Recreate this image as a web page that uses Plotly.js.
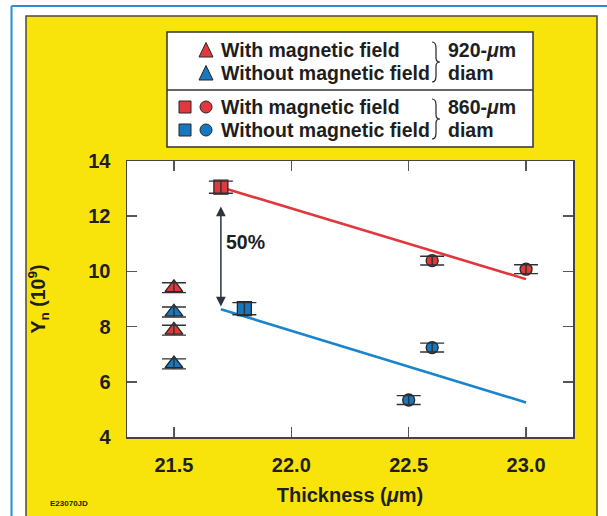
<!DOCTYPE html>
<html>
<head>
<meta charset="utf-8">
<script src="https://cdn.plot.ly/plotly-3.0.1.min.js"></script>
<style>html,body{margin:0;padding:0;background:#fff;}#chart{width:607px;height:516px;}</style>
</head>
<body>
<div id="chart"></div>
<script>
// ---- data ----
const triX = [21.5, 21.5];
const triRedY = [9.41, 7.87];
const triBlueY = [8.53, 6.65];
const triErr = [0.18, 0.18];

const sqRedX = [21.70];
const sqRedY = [13.05];
const sqBlueX = [21.80];
const sqBlueY = [8.65];
const sqErr = [0.22];

const circRedX = [22.6, 23.0];
const circRedY = [10.39, 10.08];
const circBlueX = [22.6, 22.5];
const circBlueY = [7.24, 5.34];
const circErr = [0.16, 0.16];

const fitX = [21.7, 23.0];
const fitRedY = [13.05, 9.72];
const fitBlueY = [8.63, 5.25];

const arrowX = 21.7;
const arrowTopY = 12.71;
const arrowBottomY = 8.73;

const xTickVals = [21.5, 22.0, 22.5, 23.0];
const xTickText = ['21.5', '22.0', '22.5', '23.0'];
const yTickVals = [4, 6, 8, 10, 12, 14];

// ---- styles ----
const RED = '#e1383d', BLUE = '#1677c2', EDGE = '#262626';
const FONT = 'Liberation Sans, Arial, sans-serif';
const L = 127, R = 34, T = 161, B = 79, W = 607, H = 516;
const PW = W - L - R, PH = H - T - B;
const PX = p => (p - L) / PW;
const PY = p => (H - B - p) / PH;

function mk(x, y, sym, size, color) {
  return {x: x, y: y, type: 'scatter', mode: 'markers', hoverinfo: 'skip',
    marker: {symbol: sym, size: size, color: color, line: {color: EDGE, width: 1.3}}};
}

const traces = [
  {x: fitX, y: fitRedY, type: 'scatter', mode: 'lines', line: {color: RED, width: 2.6}, hoverinfo: 'skip'},
  {x: fitX, y: fitBlueY, type: 'scatter', mode: 'lines', line: {color: '#1a85cc', width: 2.6}, hoverinfo: 'skip'},
  mk(triX, triRedY, 'triangle-up', 15.5, RED),
  mk(triX, triBlueY, 'triangle-up', 15.5, BLUE),
  mk(sqRedX, sqRedY, 'square', 14, RED),
  mk(sqBlueX, sqBlueY, 'square', 14, BLUE),
  mk(circRedX, circRedY, 'circle', 12, RED),
  mk(circBlueX, circBlueY, 'circle', 12, BLUE),
  {
    x: [].concat(triX, triX, sqRedX, sqBlueX, circRedX, circBlueX),
    y: [].concat(triRedY, triBlueY, sqRedY, sqBlueY, circRedY, circBlueY),
    type: 'scatter', mode: 'markers', hoverinfo: 'skip',
    marker: {size: 1, color: 'rgba(0,0,0,0)'},
    error_y: {type: 'data', array: [].concat(triErr, triErr, sqErr, sqErr, circErr, circErr),
      color: '#303030', thickness: 1.4, width: 12}
  }
];

// ---- decoration shapes ----
const shapes = [];
shapes.push({type: 'rect', xref: 'paper', yref: 'paper', layer: 'below',
  x0: PX(26), x1: PX(597), y0: PY(530), y1: PY(16),
  fillcolor: '#f8e40b', line: {color: '#4a4a4a', width: 1.5}});
shapes.push({type: 'rect', xref: 'paper', yref: 'paper', layer: 'below',
  x0: 0, x1: 1, y0: 0, y1: 1, fillcolor: '#ffffff', line: {width: 0}});
shapes.push({type: 'line', xref: 'paper', yref: 'paper', x0: PX(11.5), x1: PX(11.5), y0: PY(6), y1: PY(520), line: {color: '#2190d6', width: 2}});
shapes.push({type: 'line', xref: 'paper', yref: 'paper', x0: PX(11.5), x1: PX(610), y0: PY(6), y1: PY(6), line: {color: '#2190d6', width: 2}});
shapes.push({type: 'rect', xref: 'paper', yref: 'paper', x0: PX(167), x1: PX(533), y0: PY(147), y1: PY(32),
  fillcolor: '#ffffff', line: {color: '#333', width: 1.5}});
shapes.push({type: 'line', xref: 'paper', yref: 'paper', x0: PX(167), x1: PX(533), y0: PY(90), y1: PY(90),
  line: {color: '#333', width: 1.5}});

function tri(cx, cy, color) {
  const p = `M${PX(cx - 7)},${PY(cy + 7)} L${PX(cx + 7)},${PY(cy + 7)} L${PX(cx)},${PY(cy - 7.5)} Z`;
  shapes.push({type: 'path', xref: 'paper', yref: 'paper', path: p, fillcolor: color, line: {color: EDGE, width: 1}});
}
function sq(cx, cy, color) {
  shapes.push({type: 'rect', xref: 'paper', yref: 'paper', x0: PX(cx - 6), x1: PX(cx + 6), y0: PY(cy + 6), y1: PY(cy - 6),
    fillcolor: color, line: {color: EDGE, width: 1}});
}
function circ(cx, cy, color) {
  shapes.push({type: 'circle', xref: 'paper', yref: 'paper', x0: PX(cx - 6), x1: PX(cx + 6), y0: PY(cy + 6), y1: PY(cy - 6),
    fillcolor: color, line: {color: EDGE, width: 1}});
}
function brace(x0, y0, y1) {
  const x1 = x0 + 4, x2 = x0 + 8, ym = (y0 + y1) / 2;
  const pts = (a, b) => `${PX(a)},${PY(b)}`;
  const p = `M${pts(x0, y0)} Q${pts(x1, y0)} ${pts(x1, y0 + 6)} L${pts(x1, ym - 4)} Q${pts(x1, ym)} ${pts(x2, ym)} ` +
            `Q${pts(x1, ym)} ${pts(x1, ym + 4)} L${pts(x1, y1 - 6)} Q${pts(x1, y1)} ${pts(x0, y1)}`;
  shapes.push({type: 'path', xref: 'paper', yref: 'paper', path: p, line: {color: '#222', width: 1.2}});
}
tri(206, 50, RED);
tri(206, 73, BLUE);
sq(185, 107, RED); circ(206, 107, RED);
sq(185, 130, BLUE); circ(206, 130, BLUE);
brace(432, 42, 82);
brace(432, 99, 139);

const tf = (s, c) => ({family: FONT, size: s, color: c || '#1e1e1e', weight: 700});
function lt(x, y, text) {
  return {xref: 'paper', yref: 'paper', x: PX(x), y: PY(y), xanchor: 'left', yanchor: 'middle',
    text: text, showarrow: false, font: tf(19.5)};
}
const annotations = [
  lt(219, 50, 'With magnetic field'),
  lt(219, 73, 'Without magnetic field'),
  lt(219, 107, 'With magnetic field'),
  lt(219, 130, 'Without magnetic field'),
  lt(446, 50, '920-<i>\u03bc</i>m'),
  lt(446, 73, 'diam'),
  lt(446, 107, '860-<i>\u03bc</i>m'),
  lt(446, 130, 'diam'),
  {x: arrowX, y: arrowBottomY, ax: arrowX, ay: arrowTopY, xref: 'x', yref: 'y', axref: 'x', ayref: 'y',
    text: ' ', showarrow: true, arrowside: 'end+start', arrowhead: 2, startarrowhead: 2,
    arrowsize: 1.3, startarrowsize: 1.3, arrowwidth: 1.5, arrowcolor: '#2e3440'},
  {x: 21.715, y: 11.05, xref: 'x', yref: 'y', xanchor: 'left', yanchor: 'middle', text: '50%', showarrow: false, font: tf(19.5)},
  {xref: 'paper', yref: 'paper', x: PX(48), y: PY(503), xanchor: 'left', yanchor: 'middle', text: 'E23070JD', showarrow: false, font: tf(8)}
];

const layout = {
  width: W, height: H,
  margin: {l: L, r: R, t: T, b: B, pad: 0},
  paper_bgcolor: '#ffffff', plot_bgcolor: '#ffffff',
  showlegend: false,
  xaxis: {range: [21.3, 23.2], tickvals: xTickVals, ticktext: xTickText, ticks: 'inside', ticklen: 10, tickwidth: 1.5,
    tickcolor: '#555', showline: true, linecolor: '#444', linewidth: 1.5, mirror: 'ticks', showgrid: false, zeroline: false,
    tickfont: tf(20), ticklabelstandoff: 9, automargin: false,
    title: {text: 'Thickness (<i>\u03bc</i>m)', font: tf(20), standoff: 13}},
  yaxis: {range: [4, 14], tickvals: yTickVals, ticks: 'inside', ticklen: 10, tickwidth: 1.5,
    tickcolor: '#555', showline: true, linecolor: '#444', linewidth: 1.5, mirror: 'ticks', showgrid: false, zeroline: false,
    tickfont: tf(20), ticklabelstandoff: 11, automargin: false,
    title: {text: 'Y<sub>n</sub> (10<sup>9</sup>)', font: tf(19.5), standoff: 37}},
  shapes: shapes,
  annotations: annotations
};

Plotly.newPlot('chart', traces, layout, {displayModeBar: false, staticPlot: true});
</script>
</body>
</html>
